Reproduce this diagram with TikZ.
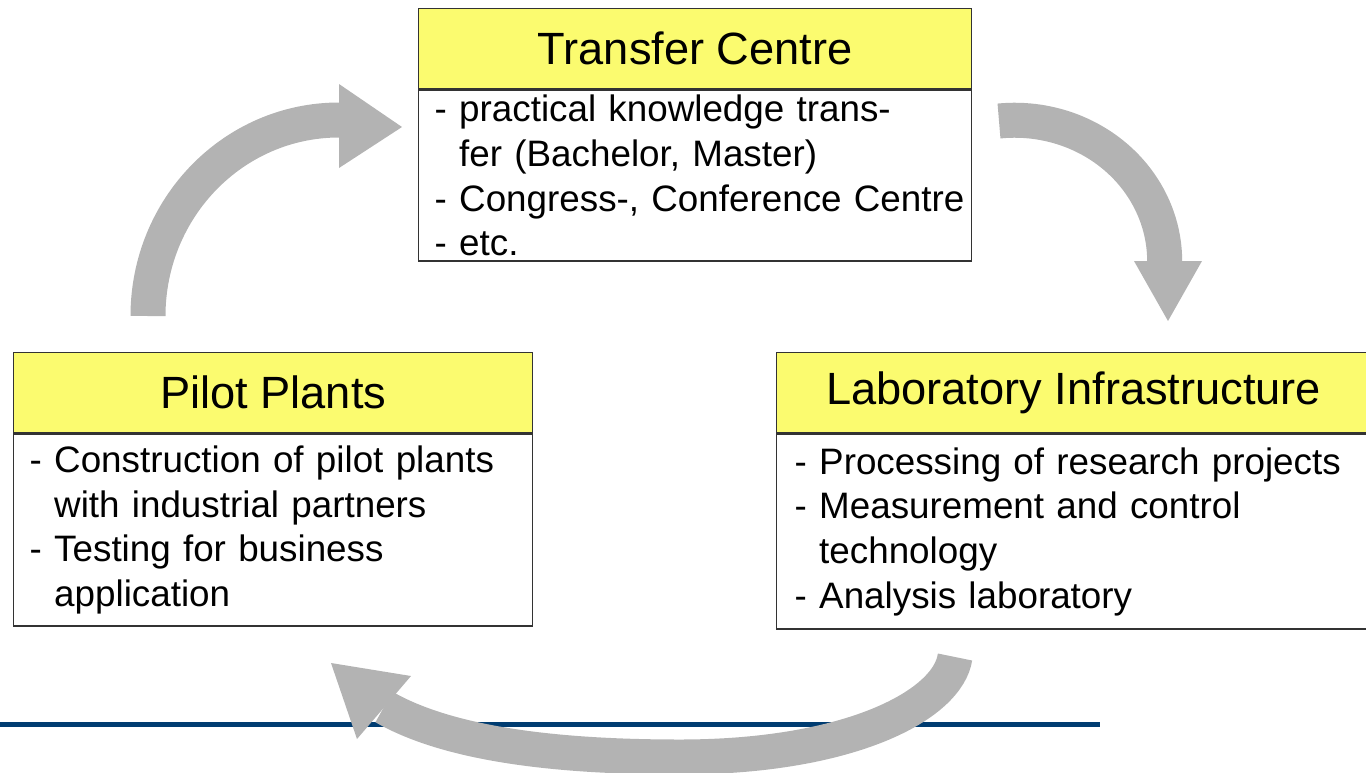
\documentclass[tikz,border=0pt]{standalone}
\usepackage{fontspec}
\setmainfont{Liberation Sans}
\usetikzlibrary{positioning}
\definecolor{headyellow}{HTML}{FBFB6F}
\definecolor{boxline}{HTML}{333333}
\definecolor{arrowgray}{HTML}{B3B3B3}
\definecolor{rulerblue}{HTML}{003C71}
\tikzset{boxhead/.style={draw=boxline,line width=0.7pt,fill=headyellow,inner sep=0pt,minimum height=40pt,font=\fontsize{22.6pt}{26pt}\selectfont}}
\tikzset{boxbody/.style={draw=boxline,line width=0.7pt,fill=white,inner xsep=8pt,inner ysep=0pt,align=left,font=\fontsize{18.4pt}{22.35pt}\selectfont}}
\tikzset{bigarrow/.style={draw=arrowgray,line width=17.5pt}, arrowtip/.style={fill=arrowgray}}
\newcommand{\hang}{\hphantom{- }}

\begin{document}
\begin{tikzpicture}[x=0.5pt,y=-0.5pt]
  \useasboundingbox (0,0) rectangle (1366,772);
  \clip (0,0) rectangle (1366,772);
  % rule
  \draw[rulerblue,line width=2.5pt] (0,724) -- (1100,724);
  % boxes
  \node[boxhead,minimum width=276.5pt,anchor=north west] (tchead) at (418,8) {Transfer Centre};
  \node[boxbody,text width=260.5pt,minimum height=85.5pt,below=0pt of tchead] (tcbody)
    {- practical knowledge trans-\\\hang fer (Bachelor, Master)\\\mbox{- Congress-, Conference Centre}\\- etc.};
  \node[boxhead,minimum width=259.5pt,anchor=north west] (pphead) at (13,352) {Pilot Plants};
  \node[boxbody,text width=243.5pt,minimum height=96pt,below=0pt of pphead] (ppbody)
    {- Construction of pilot plants\\\hang with industrial partners\\- Testing for business\\\hang application};
  \node[boxhead,minimum width=297pt,anchor=north west] (lihead) at (776,352) {Laboratory Infrastructure};
  \node[boxbody,inner xsep=9pt,text width=279pt,minimum height=97.5pt,below=0pt of lihead] (libody)
    {- Processing of research projects\\- Measurement and control\\\hang technology\\- Analysis laboratory};
  % arrows
  \draw[bigarrow] (148,316) arc[start angle=180,end angle=270,x radius=191,y radius=196];
  \fill[arrowtip] (339,84) -- (402,127) -- (339,168) -- cycle;
  \draw[bigarrow] (999,121) arc[start angle=264,end angle=360,x radius=150,y radius=141];
  \fill[arrowtip] (1134,261) -- (1168,321) -- (1202,261) -- cycle;
  \draw[bigarrow] (955,657) .. controls (948,705) and (850,757) .. (680,757)
    .. controls (560,757) and (450,745) .. (384,707);
  \fill[arrowtip] (331,663) -- (411,676) -- (357,739) -- cycle;
\end{tikzpicture}
\end{document}
